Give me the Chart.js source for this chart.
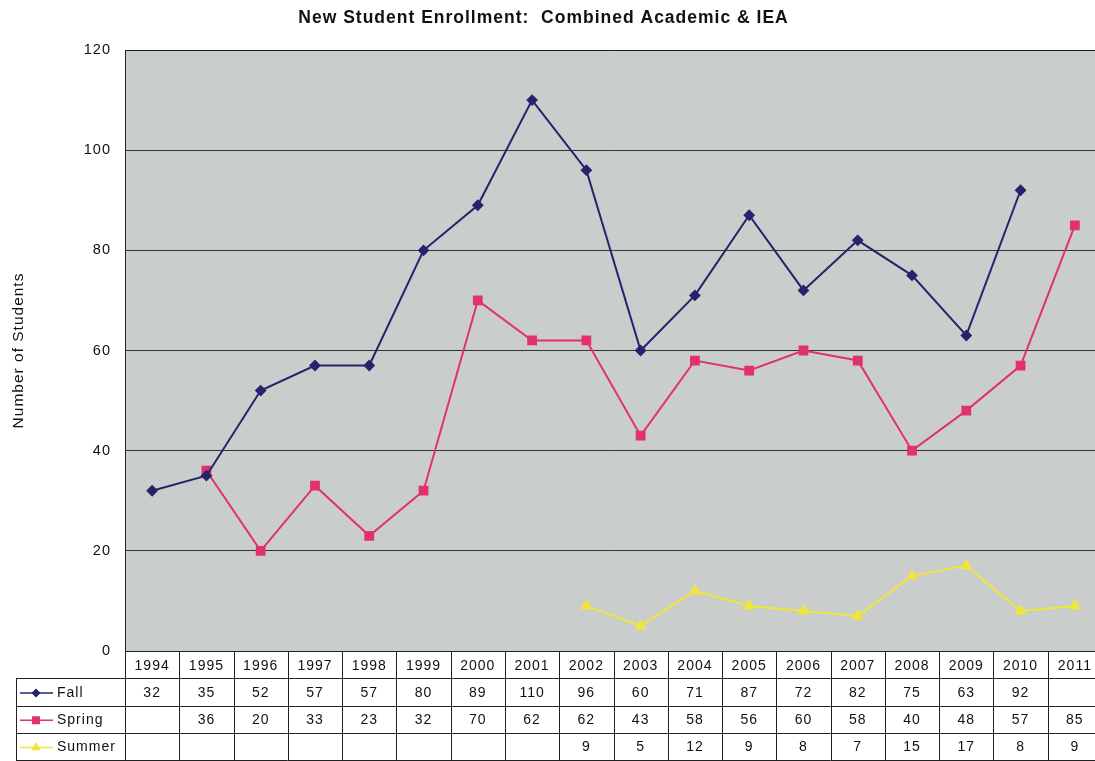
<!DOCTYPE html>
<html>
<head>
<meta charset="utf-8">
<script src="https://cdn.jsdelivr.net/npm/chart.js@4.4.1/dist/chart.umd.min.js"></script>
<style>
  html, body { margin: 0; padding: 0; background: #fff; overflow: hidden; }
  #wrap { width: 1095px; height: 761px; overflow: hidden; }
</style>
</head>
<body>
<!-- the original is cropped a few pixels into the 2011 column -->
<div id="wrap"><canvas id="enrollChart" width="1102" height="761"></canvas></div>
<script>
const years = ["1994","1995","1996","1997","1998","1999","2000","2001","2002",
               "2003","2004","2005","2006","2007","2008","2009","2010","2011"];
const fall   = [32, 35, 52, 57, 57, 80, 89, 110, 96, 60, 71, 87, 72, 82, 75, 63, 92, null];
const spring = [null, 36, 20, 33, 23, 32, 70, 62, 62, 43, 58, 56, 60, 58, 40, 48, 57, 85];
const summer = [null, null, null, null, null, null, null, null, 9, 5, 12, 9, 8, 7, 15, 17, 8, 9];
const yTicks = [0, 20, 40, 60, 80, 100, 120];

const FONT = "Liberation Sans, Arial, sans-serif";

// the scanned original has rather wide lettering
const spacing = {
    id: "spacing",
    beforeLayout(chart) { chart.ctx.letterSpacing = "1px"; },
    beforeDraw(chart) { chart.ctx.letterSpacing = "1px"; }
};

// grey plot background + frame
const plotBg = {
    id: "plotBg",
    beforeDraw(chart) {
        const { ctx, chartArea: a } = chart;
        ctx.save();
        ctx.fillStyle = "#c9cdcc";
        ctx.fillRect(a.left, a.top, a.right - a.left, a.bottom - a.top);
        ctx.restore();
    },
    afterDraw(chart) {
        const { ctx, chartArea: a } = chart;
        ctx.save();
        ctx.strokeStyle = "#222";
        ctx.lineWidth = 1;
        ctx.beginPath();
        ctx.moveTo(a.left + 0.5, a.bottom);
        ctx.lineTo(a.left + 0.5, a.top + 0.5);
        ctx.lineTo(a.right, a.top + 0.5);
        ctx.stroke();
        ctx.restore();
    }
};

// data table under the plot, columns follow the x scale
const dataTable = {
    id: "dataTable",
    afterDraw(chart) {
        const { ctx, chartArea: a } = chart;
        const x = chart.scales.x;
        const rowH = 27.3;
        const top = a.bottom;
        const tableLeft = 16;
        const half = (x.getPixelForValue(1) - x.getPixelForValue(0)) / 2;

        ctx.save();
        ctx.letterSpacing = "1px";
        ctx.strokeStyle = "#222";
        ctx.lineWidth = 1;
        ctx.beginPath();
        // horizontal lines
        ctx.moveTo(a.left, top + 0.5);
        ctx.lineTo(a.right, top + 0.5);
        for (let r = 1; r <= 4; r++) {
            const yy = Math.round(top + r * rowH) + 0.5;
            ctx.moveTo(tableLeft, yy);
            ctx.lineTo(a.right, yy);
        }
        // vertical lines
        ctx.moveTo(tableLeft + 0.5, top + rowH);
        ctx.lineTo(tableLeft + 0.5, top + 4 * rowH);
        for (let i = 0; i < years.length; i++) {
            const xx = Math.round(x.getPixelForValue(i) - half) + 0.5;
            ctx.moveTo(xx, top);
            ctx.lineTo(xx, top + 4 * rowH);
        }
        ctx.stroke();

        ctx.fillStyle = "#111";
        ctx.font = "14px " + FONT;
        ctx.textAlign = "center";
        ctx.textBaseline = "middle";
        years.forEach((yr, i) => {
            ctx.fillText(yr, x.getPixelForValue(i), top + rowH / 2 + 1);
        });

        chart.data.datasets.forEach((ds, r) => {
            const cy = top + (r + 1) * rowH + rowH / 2 + 1;
            ds.data.forEach((v, i) => {
                if (v !== null) ctx.fillText(String(v), x.getPixelForValue(i), cy);
            });
            // legend key
            ctx.strokeStyle = ds.borderColor;
            ctx.lineWidth = 1.5;
            ctx.beginPath();
            ctx.moveTo(20, cy);
            ctx.lineTo(53, cy);
            ctx.stroke();
            Chart.helpers.drawPoint(ctx, {
                pointStyle: ds.pointStyle,
                radius: ds.pointRadius - 1,
                borderWidth: 1,
                rotation: 0
            }, 36, cy);
            ctx.fillStyle = ds.pointBackgroundColor;
            ctx.strokeStyle = ds.borderColor;
            ctx.fill();
            ctx.fillStyle = "#111";
            ctx.textAlign = "left";
            ctx.fillText(ds.label, 57, cy);
            ctx.textAlign = "center";
        });
        ctx.restore();
    }
};

new Chart(document.getElementById("enrollChart"), {
    type: "line",
    data: {
        labels: years,
        datasets: [
            {
                label: "Fall",
                data: fall,
                borderColor: "#24246c",
                backgroundColor: "#24246c",
                pointBackgroundColor: "#24246c",
                borderWidth: 2,
                pointStyle: "rectRot",
                pointRadius: 4.5,
                tension: 0
            },
            {
                label: "Spring",
                data: spring,
                borderColor: "#e3306f",
                backgroundColor: "#e3306f",
                pointBackgroundColor: "#e3306f",
                borderWidth: 2,
                pointStyle: "rect",
                pointRadius: 5.5,
                tension: 0
            },
            {
                label: "Summer",
                data: summer,
                borderColor: "#f2e53a",
                backgroundColor: "#f2e53a",
                pointBackgroundColor: "#f2e53a",
                borderWidth: 2,
                pointStyle: "triangle",
                pointRadius: 5,
                tension: 0
            }
        ]
    },
    options: {
        responsive: false,
        animation: false,
        layout: {
            autoPadding: false,
            padding: { left: -15, right: 0, top: 0, bottom: 110 }
        },
        plugins: {
            legend: { display: false },
            tooltip: { enabled: false },
            title: {
                display: true,
                text: "New Student Enrollment:  Combined Academic & IEA",
                color: "#111",
                font: { family: FONT, size: 17.5, weight: "bold" },
                padding: { top: 8, bottom: 21 }
            }
        },
        scales: {
            x: {
                display: false,
                offset: true
            },
            y: {
                min: 0,
                max: 120,
                afterBuildTicks(scale) {
                    scale.ticks = yTicks.map(v => ({ value: v }));
                },
                afterFit(scale) { scale.width = 140; },
                border: { display: false },
                grid: { color: "#333", lineWidth: 1, drawTicks: false },
                ticks: {
                    color: "#111",
                    padding: 14,
                    font: { family: FONT, size: 14.5 }
                },
                title: {
                    display: true,
                    text: "Number of Students",
                    color: "#111",
                    font: { family: FONT, size: 15.5 },
                    padding: { top: 24, bottom: 0 }
                }
            }
        }
    },
    plugins: [spacing, plotBg, dataTable]
});
</script>
</body>
</html>
